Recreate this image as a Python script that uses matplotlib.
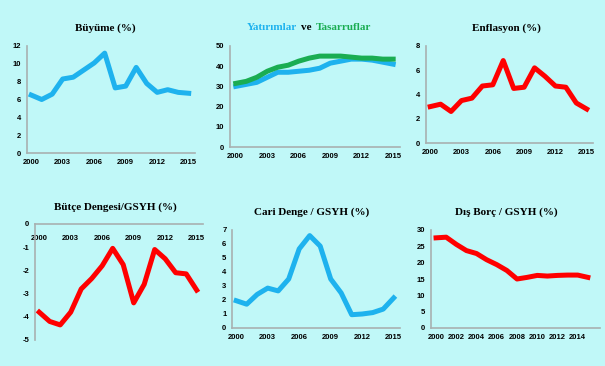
import matplotlib
matplotlib.use("Agg")
import matplotlib.pyplot as plt
from matplotlib.offsetbox import TextArea, HPacker, AnchoredOffsetbox

plt.rcParams["axes.unicode_minus"] = False

W, H = 605, 366
BG = "#c0f8f8"
BLUE = "#1eb2ee"
GREEN = "#1aad52"
RED = "#ff0000"

years = list(range(2000, 2016))

growth = [6.5, 6.0, 6.6, 8.3, 8.5, 9.3, 10.1, 11.2, 7.3, 7.5, 9.6, 7.8, 6.8, 7.1, 6.8, 6.7]
investment = [30.0, 31.0, 32.0, 34.5, 37.0, 37.0, 37.5, 38.0, 39.0, 41.5, 42.5, 43.5, 43.5, 43.0, 42.0, 41.0]
savings = [31.5, 32.5, 34.5, 37.5, 39.5, 40.5, 42.5, 44.0, 45.0, 45.0, 45.0, 44.5, 44.0, 44.0, 43.5, 43.5]
inflation = [3.0, 3.2, 2.6, 3.5, 3.7, 4.7, 4.8, 6.8, 4.5, 4.6, 6.2, 5.5, 4.7, 4.6, 3.3, 2.8]
budget = [-3.8, -4.2, -4.35, -3.8, -2.8, -2.35, -1.8, -1.05, -1.75, -3.4, -2.6, -1.1, -1.5, -2.1, -2.15, -2.85]
current = [1.95, 1.7, 2.4, 2.85, 2.65, 3.5, 5.65, 6.6, 5.85, 3.5, 2.5, 0.95, 1.0, 1.1, 1.35, 2.15]
ext_debt = [27.6, 27.8, 25.6, 23.7, 22.8, 20.9, 19.4, 17.6, 15.0, 15.5, 16.1, 15.9, 16.1, 16.2, 16.2, 15.5]

ticks_3 = [2000, 2003, 2006, 2009, 2012, 2015]
ticks_2 = list(range(2000, 2016, 2))

fig = plt.figure(figsize=(W / 100, H / 100), dpi=100)
fig.patch.set_facecolor(BG)

SPINE = "#a8b0b0"


def make_axes(x0, x1, y_top, y_bot, xlim, ylim, yticks, xticks):
    ax = fig.add_axes([x0 / W, 1 - y_bot / H, (x1 - x0) / W, (y_bot - y_top) / H])
    ax.set_facecolor(BG)
    ax.set_xlim(*xlim)
    ax.set_ylim(*ylim)
    ax.set_yticks(yticks)
    ax.set_xticks(xticks)
    for s in ["top", "right"]:
        ax.spines[s].set_visible(False)
    for s in ["left", "bottom"]:
        ax.spines[s].set_color(SPINE)
        ax.spines[s].set_linewidth(1.2)
    ax.tick_params(length=0, labelsize=5.5, pad=4)
    return ax


def bold_ticks(ax):
    for lab in ax.get_xticklabels() + ax.get_yticklabels():
        lab.set_fontweight("bold")
        lab.set_fontfamily("Liberation Sans")


def title(x, y, text):
    fig.text(x / W, 1 - y / H, text, ha="center", va="center", fontsize=8,
             fontweight="bold", family="Liberation Serif")


lw = 3.6

# Büyüme
ax1 = make_axes(27, 195, 46, 153, (1999.6, 2015.6), (0, 12), range(0, 13, 2), ticks_3)
ax1.plot(years, growth, color=BLUE, lw=lw, solid_joinstyle="round")
bold_ticks(ax1)
title(105, 28, "Büyüme (%)")

# Yatırımlar ve Tasarruflar
ax2 = make_axes(230, 400, 46, 147, (1999.45, 2015.65), (0, 50), range(0, 51, 10), ticks_3)
ax2.plot(years, investment, color=BLUE, lw=lw, solid_joinstyle="round")
ax2.plot(years, savings, color=GREEN, lw=lw, solid_joinstyle="round")
bold_ticks(ax2)
tp = dict(fontsize=8, fontweight="bold", family="Liberation Serif")
parts = HPacker(children=[
    TextArea("Yatırımlar", textprops=dict(color=BLUE, **tp)),
    TextArea("ve", textprops=dict(color="black", **tp)),
    TextArea("Tasarruflar", textprops=dict(color=GREEN, **tp)),
], align="baseline", pad=0, sep=3)
box = AnchoredOffsetbox(loc="center", child=parts, frameon=False, pad=0,
                        bbox_to_anchor=(309 / W, 1 - 28 / H),
                        bbox_transform=fig.transFigure)
fig.add_artist(box)

# Enflasyon
ax3 = make_axes(426, 593, 46, 143, (1999.6, 2015.6), (0, 8), range(0, 9, 2), ticks_3)
ax3.plot(years, inflation, color=RED, lw=lw, solid_joinstyle="round")
bold_ticks(ax3)
title(506, 28, "Enflasyon (%)")

# Bütçe Dengesi: x axis sits on the top (y = 0), labels just under it
ax4 = make_axes(35, 203, 224, 340, (1999.6, 2015.6), (-5, 0), range(-5, 1), ticks_3)
ax4.spines["bottom"].set_visible(False)
ax4.spines["top"].set_visible(True)
ax4.spines["top"].set_color(SPINE)
ax4.spines["top"].set_linewidth(1.2)
ax4.tick_params(axis="x", bottom=False, labelbottom=False, top=False,
                labeltop=True, pad=-13)
ax4.plot(years, budget, color=RED, lw=lw, solid_joinstyle="round")
bold_ticks(ax4)
title(115, 207, "Bütçe Dengesi/GSYH (%)")

# Cari Denge
ax5 = make_axes(232, 400, 230, 328, (1999.6, 2015.6), (0, 7), range(0, 8), ticks_3)
ax5.plot(years, current, color=BLUE, lw=lw, solid_joinstyle="round")
bold_ticks(ax5)
title(312, 212, "Cari Denge / GSYH (%)")

# Dış Borç
ax6 = make_axes(431, 600, 230, 328, (1999.5, 2016.2), (0, 30), range(0, 31, 5), ticks_2)
ax6.plot(years, ext_debt, color=RED, lw=lw, solid_joinstyle="round")
bold_ticks(ax6)
title(506, 212, "Dış Borç / GSYH (%)")

fig.savefig("out.png", dpi=100, facecolor=BG)
